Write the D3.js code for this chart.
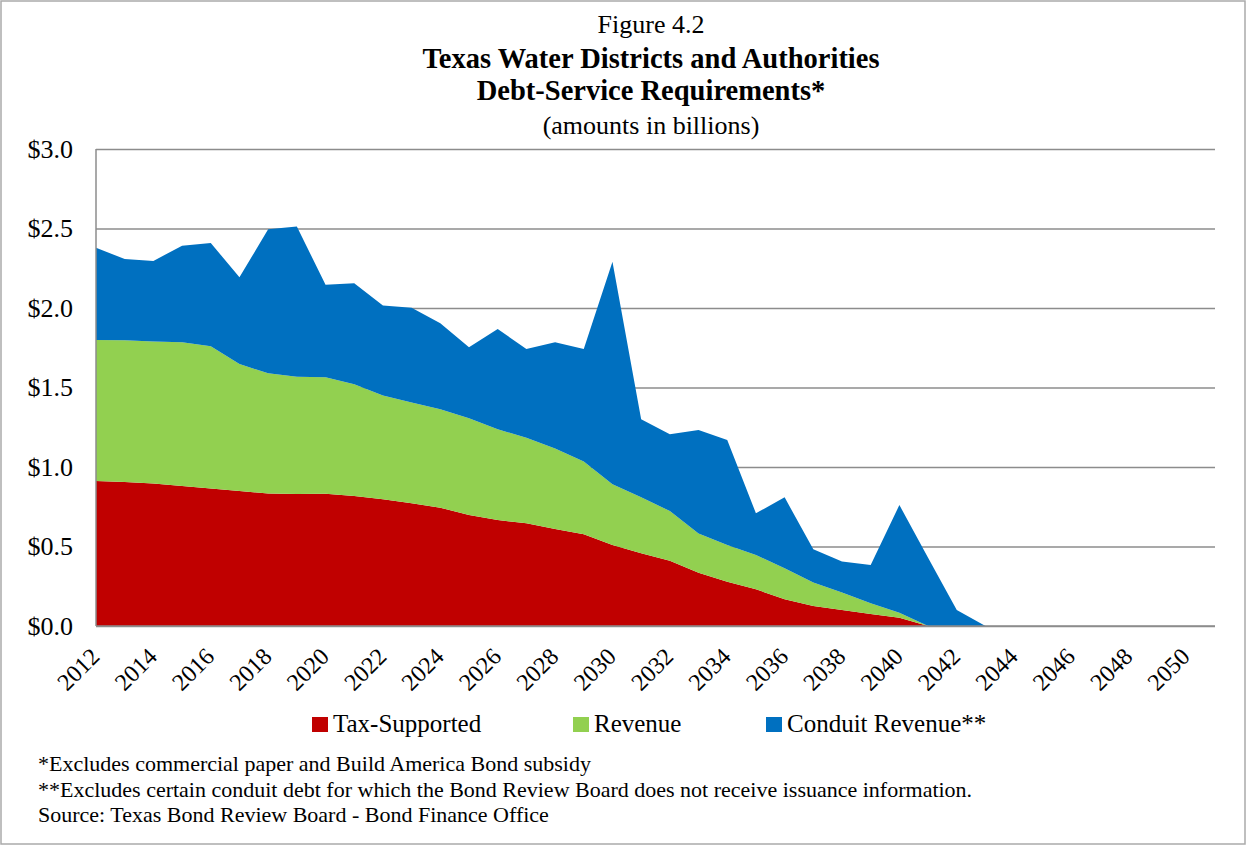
<!DOCTYPE html>
<html>
<head>
<meta charset="utf-8">
<script src="https://cdn.jsdelivr.net/npm/d3@7"></script>
<style>
  body { margin: 0; background: #fff; }
  svg { display: block; font-family: "Liberation Serif", "DejaVu Serif", serif; }
</style>
</head>
<body>
<svg width="1247" height="846"></svg>
<script>
// categories
const years = [2012, 2013, 2014, 2015, 2016, 2017, 2018, 2019, 2020, 2021,
  2022, 2023, 2024, 2025, 2026, 2027, 2028, 2029, 2030, 2031,
  2032, 2033, 2034, 2035, 2036, 2037, 2038, 2039, 2040, 2041,
  2042, 2043, 2044, 2045, 2046, 2047, 2048, 2049, 2050, 2051];

// debt service, billions of dollars
const taxSupported = [0.912, 0.906, 0.897, 0.881, 0.864, 0.849, 0.834, 0.830, 0.832, 0.818,
  0.797, 0.772, 0.744, 0.698, 0.667, 0.646, 0.610, 0.577, 0.509, 0.457,
  0.411, 0.335, 0.279, 0.231, 0.168, 0.126, 0.101, 0.075, 0.052, 0,
  0, 0, 0, 0, 0, 0, 0, 0, 0, 0];
const revenue = [0.887, 0.891, 0.893, 0.903, 0.895, 0.799, 0.755, 0.738, 0.732, 0.702,
  0.652, 0.633, 0.619, 0.608, 0.570, 0.538, 0.507, 0.457, 0.382, 0.352,
  0.312, 0.246, 0.230, 0.216, 0.195, 0.147, 0.109, 0.068, 0.032, 0,
  0, 0, 0, 0, 0, 0, 0, 0, 0, 0];
const conduit = [0.580, 0.511, 0.506, 0.608, 0.650, 0.545, 0.906, 0.944, 0.583, 0.635,
  0.566, 0.597, 0.541, 0.447, 0.631, 0.558, 0.667, 0.708, 1.400, 0.491,
  0.483, 0.652, 0.661, 0.262, 0.446, 0.209, 0.195, 0.241, 0.677, 0.430,
  0.100, 0, 0, 0, 0, 0, 0, 0, 0, 0];

const seriesNames = ["Tax-Supported", "Revenue", "Conduit Revenue**"];
const seriesColors = ["#c00000", "#92d050", "#0070c0"];
const yTicks = [0, 0.5, 1.0, 1.5, 2.0, 2.5, 3.0];
const titleLines = ["Figure 4.2", "Texas Water Districts and Authorities",
  "Debt-Service Requirements*", "(amounts in billions)"];
const notes = ["*Excludes commercial paper and Build America Bond subsidy",
  "**Excludes certain conduit debt for which the Bond Review Board does not receive issuance information.",
  "Source: Texas Bond Review Board - Bond Finance Office"];

var svg = d3.select("svg");

// outer frame
svg.append("rect")
  .attr("x", 1).attr("y", 1)
  .attr("width", 1244).attr("height", 843)
  .attr("fill", "none")
  .attr("stroke", "#aaaaaa")
  .attr("stroke-width", 1.5);

var plotLeft = 96, plotRight = 1215, plotTop = 149, plotBottom = 626;

var x = d3.scalePoint().domain(years).range([plotLeft, plotRight]);
var y = d3.scaleLinear().domain([0, 3]).range([plotBottom, plotTop]);

// gridlines
svg.append("g")
  .attr("transform", "translate(" + plotLeft + ",0)")
  .call(d3.axisLeft(y).tickValues(yTicks).tickSize(-(plotRight - plotLeft)).tickFormat(""))
  .call(g => g.select(".domain").remove())
  .call(g => g.selectAll("line").attr("stroke", "#8c8c8c").attr("stroke-width", 1.5));

// stacked areas
var rows = years.map(function (yr, i) {
  return { year: yr, "Tax-Supported": taxSupported[i], "Revenue": revenue[i], "Conduit Revenue**": conduit[i] };
});
var stack = d3.stack().keys(seriesNames);
var layers = stack(rows);

var area = d3.area()
  .x(function (d) { return x(d.data.year); })
  .y0(function (d) { return y(d[0]); })
  .y1(function (d) { return y(d[1]); });

svg.append("g")
  .selectAll("path")
  .data(layers)
  .enter().append("path")
  .attr("fill", function (d, i) { return seriesColors[i]; })
  .attr("d", area);

// axis lines
svg.append("line")
  .attr("x1", plotLeft).attr("x2", plotLeft).attr("y1", plotTop).attr("y2", plotBottom)
  .attr("stroke", "#8c8c8c").attr("stroke-width", 1.5);
svg.append("line")
  .attr("x1", plotLeft).attr("x2", plotRight).attr("y1", plotBottom).attr("y2", plotBottom)
  .attr("stroke", "#8c8c8c").attr("stroke-width", 1.5);

// y labels
svg.append("g")
  .attr("transform", "translate(" + (plotLeft - 23) + ",0)")
  .call(d3.axisLeft(y).tickValues(yTicks).tickSize(0).tickPadding(0)
    .tickFormat(function (d) { return "$" + d.toFixed(1); }))
  .call(g => g.select(".domain").remove())
  .call(g => g.selectAll("text")
    .attr("font-family", "Liberation Serif")
    .attr("font-size", 26)
    .attr("fill", "#000"));

// x labels, every second year
var xTicks = years.filter(function (d, i) { return i % 2 === 0; });
svg.append("g")
  .selectAll("text")
  .data(xTicks)
  .enter().append("text")
  .attr("transform", function (d) { return "translate(" + (x(d) + 5) + ",658) rotate(-45)"; })
  .attr("text-anchor", "end")
  .attr("font-size", 24)
  .text(function (d) { return d; });

// title
var titleY = [33, 68, 100, 134];
svg.append("g")
  .selectAll("text")
  .data(titleLines)
  .enter().append("text")
  .attr("x", 651)
  .attr("y", function (d, i) { return titleY[i]; })
  .attr("text-anchor", "middle")
  .attr("font-size", function (d, i) { return (i === 1 || i === 2) ? 28.5 : 26; })
  .attr("font-weight", function (d, i) { return (i === 1 || i === 2) ? "bold" : "normal"; })
  .text(function (d) { return d; });

// legend
var legendX = [312, 573, 766];
var legend = svg.append("g")
  .selectAll("g")
  .data(seriesNames)
  .enter().append("g")
  .attr("transform", function (d, i) { return "translate(" + legendX[i] + ",717)"; });
legend.append("rect")
  .attr("width", 16).attr("height", 15)
  .attr("fill", function (d, i) { return seriesColors[i]; });
legend.append("text")
  .attr("x", 21).attr("y", 15)
  .attr("font-size", 25)
  .text(function (d) { return d; });

// footnotes
svg.append("g")
  .selectAll("text")
  .data(notes)
  .enter().append("text")
  .attr("x", 38)
  .attr("y", function (d, i) { return 771 + i * 25.5; })
  .attr("font-size", 22)
  .text(function (d) { return d; });
</script>
</body>
</html>
